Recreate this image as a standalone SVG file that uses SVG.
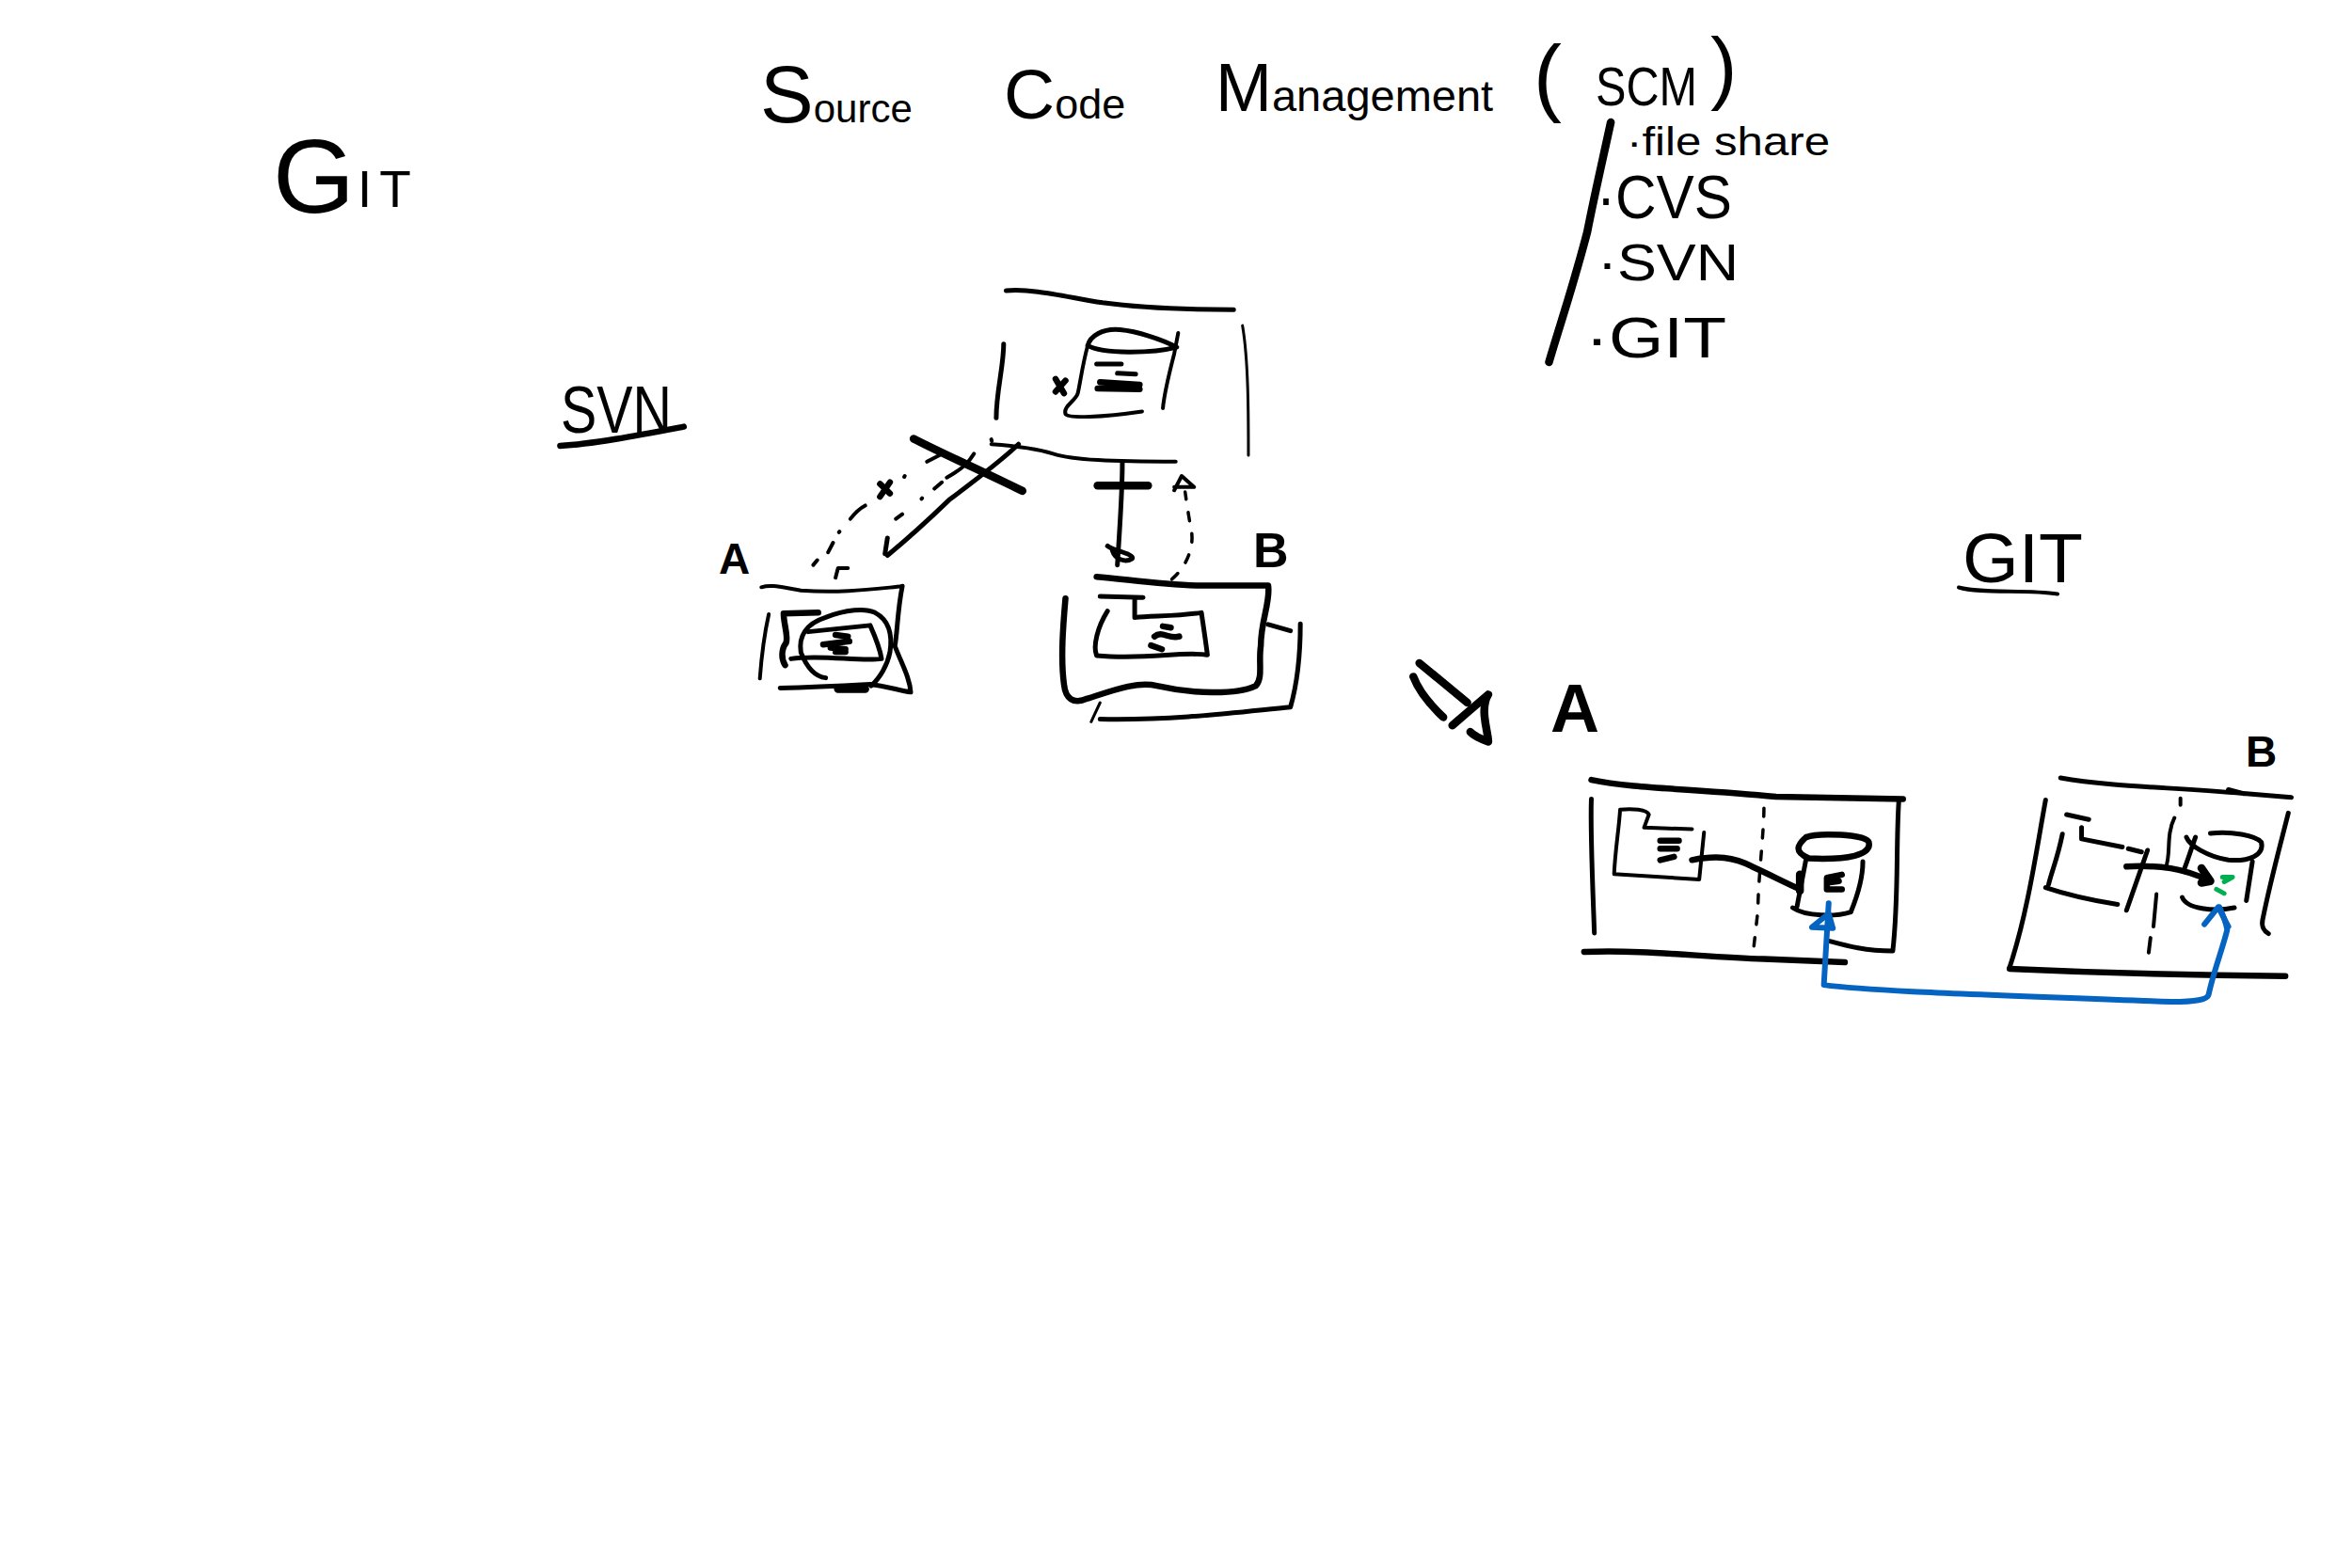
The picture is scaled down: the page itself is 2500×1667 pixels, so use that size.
<svg xmlns="http://www.w3.org/2000/svg" width="2500" height="1667" viewBox="0 0 2500 1667">
<style>
path{fill:none;stroke:#000;stroke-linecap:round;stroke-linejoin:round;stroke-width:5px;vector-effect:non-scaling-stroke}
.t{stroke-width:3px}.m{stroke-width:4px}.b{stroke-width:6.5px}.h{stroke-width:8.5px}
.d{stroke-dasharray:9 14;stroke-width:3.5px}
.blue{stroke:#0563C1;stroke-width:6px}.green{stroke:#00B050;stroke-width:5px}
text{font-family:"Liberation Sans",Arial,sans-serif;fill:#000}
.l{font-weight:700}
</style>
<rect width="2500" height="1667" fill="#fff"/>
<g id="title">
<text y="130" font-size="42" x="808"><tspan font-size="85">S</tspan>ource</text>
<text y="126" font-size="45" x="1067"><tspan font-size="75">C</tspan>ode</text>
<text y="118" font-size="47" x="1292"><tspan font-size="72">M</tspan>anagement</text>
<text y="112" font-size="58"><tspan x="1630" font-size="90">(</tspan><tspan x="1696" y="112" textLength="108" lengthAdjust="spacingAndGlyphs">SCM</tspan><tspan x="1818" y="100" font-size="85">)</tspan></text>
</g>
<g id="scm-list">
<path class="h" transform="translate(780 40) scale(.782 .3333)" d="M1192 270C1180 400 1170 500 1160 620C1140 800 1125 900 1108 1035"/>
<text x="1729" y="165" font-size="42" textLength="216" lengthAdjust="spacingAndGlyphs">·file share</text>
<text x="1697" y="232" font-size="64" textLength="144" lengthAdjust="spacingAndGlyphs">·CVS</text>
<text x="1698" y="298" font-size="55" textLength="150" lengthAdjust="spacingAndGlyphs">·SVN</text>
<text x="1685" y="380" font-size="62" textLength="150" lengthAdjust="spacingAndGlyphs">·GIT</text>
</g>
<g id="heading-git"><text y="226" font-size="55"><tspan x="290" font-size="112">G</tspan><tspan x="380" y="220" letter-spacing="8">IT</tspan></text></g>
<g id="heading-svn">
<text x="596" y="460" font-size="70" textLength="118" lengthAdjust="spacingAndGlyphs">SVN</text>
<path class="b" transform="translate(577 288) scale(.5256 .338)" d="M35 550C100 545 200 515 285 490"/>
</g>
<g id="label-a1"><text class="l" x="764" y="610" font-size="46">A</text></g>
<g id="label-b1"><text class="l" x="1332" y="603" font-size="52">B</text></g>
<g id="heading-git2">
<text x="2086" y="619" font-size="74" textLength="128" lengthAdjust="spacingAndGlyphs">GIT</text>
<path class="m" transform="translate(1480 540) scale(.637 .345)" d="M945 245C980 265 1060 250 1110 265"/>
</g>
<g id="label-a2"><text class="l" x="1648" y="778" font-size="72">A</text></g>
<g id="label-b2"><text class="l" x="2387" y="815" font-size="46">B</text></g>

<g id="svn-server" transform="translate(578 288) scale(.5256 .338)">
<path d="M935 62C990 55 1050 80 1130 100C1200 115 1300 122 1395 122"/>
<path d="M930 230C930 300 915 380 915 462"/>
<path class="t" d="M1413 172C1425 280 1425 450 1425 580"/>
<path class="m" d="M905 545C950 550 1000 560 1030 575C1070 595 1150 600 1278 600"/>
<path d="M1100 235C1105 205 1130 180 1165 185C1200 190 1250 215 1280 240C1230 260 1130 262 1100 235"/>
<path class="m" d="M1283 195L1275 260C1265 320 1255 380 1252 432"/>
<path class="m" d="M1100 235C1090 290 1085 350 1080 385C1075 410 1050 425 1055 450C1060 465 1130 460 1210 442"/>
<path d="M1118 293L1168 293M1160 322L1197 325"/>
<path class="b" d="M1125 350L1205 358M1120 370L1205 372"/>
<path class="b" d="M1035 340L1052 385M1055 345L1035 380"/>
</g>
<g id="svn-client-a" transform="translate(578 288) scale(.5256 .338)">
<path class="m" d="M440 995C460 985 480 995 520 1005C600 1015 670 1000 725 992"/>
<path d="M725 992C715 1070 715 1140 710 1180C725 1240 740 1280 742 1325C720 1320 690 1305 660 1300C600 1305 530 1310 478 1312"/>
<path class="m" d="M455 1080C445 1150 440 1220 437 1282"/>
<path class="b" d="M555 1075L485 1078C485 1110 495 1150 490 1170C480 1190 480 1220 488 1240"/>
<path d="M570 1280C545 1275 530 1240 520 1200C515 1150 530 1110 570 1090C610 1065 650 1060 670 1075C700 1100 705 1150 700 1200C695 1240 680 1280 662 1305"/>
<path d="M535 1135L660 1115C670 1150 680 1190 683 1220C640 1230 560 1205 500 1220"/>
<path class="b" d="M565 1175L618 1165M590 1145L615 1150M580 1185L610 1190M590 1198L610 1198"/>
<path class="h" d="M595 1315L650 1315"/>
</g>
<g id="svn-client-b" transform="translate(578 288) scale(.5256 .338)">
<path class="b" d="M1118 962C1180 970 1250 988 1330 990L1465 990C1470 1040 1450 1100 1450 1180C1445 1230 1455 1280 1440 1305C1400 1335 1310 1330 1240 1305C1200 1290 1150 1320 1100 1345C1070 1365 1055 1345 1052 1300C1045 1220 1050 1120 1055 1030"/>
<path d="M1465 1112L1510 1132"/>
<path d="M1530 1110C1530 1200 1525 1290 1510 1372C1420 1385 1280 1415 1125 1410"/>
<path class="t" d="M1125 1358L1107 1418"/>
<path d="M1125 1024L1212 1027M1195 1030L1195 1090C1240 1085 1290 1085 1330 1075C1335 1130 1340 1180 1342 1208C1290 1195 1220 1225 1118 1210C1110 1180 1120 1120 1140 1070"/>
<path class="b" d="M1252 1118L1268 1122M1235 1150C1250 1130 1265 1160 1285 1150M1228 1178L1250 1190"/>
</g>
<g id="git-repo-a" transform="translate(1480 540) scale(.637 .345)">
<path class="b" d="M332 838C400 865 500 865 640 890L852 897"/>
<path d="M332 897C330 1000 335 1200 337 1310"/>
<path d="M845 905C840 1050 845 1200 835 1365C790 1365 760 1350 730 1335"/>
<path class="b" d="M320 1368C420 1360 520 1385 620 1390L755 1400"/>
<path class="d" d="M620 925C620 1000 610 1150 610 1240L602 1370"/>
<path class="m" d="M380 930C400 925 425 930 428 945L420 985L500 990M520 1000L512 1145L370 1128C372 1050 378 990 380 930"/>
<path class="b" d="M447 1025L478 1025M447 1050L475 1050M447 1085L470 1075"/>
<path class="b" d="M690 1015C710 1000 790 1005 795 1030C800 1070 760 1085 695 1080C670 1060 675 1040 690 1015"/>
<path d="M690 1085L675 1230M785 1090C785 1140 775 1200 765 1245M668 1232C690 1260 740 1260 765 1245"/>
<path class="b" d="M750 1130L725 1140L725 1175L750 1175M725 1155L745 1150"/>
</g>
<g id="git-repo-b" transform="translate(1480 540) scale(.637 .345)">
<path d="M1115 832C1200 860 1300 860 1420 880L1500 892M1395 868L1420 880"/>
<path d="M1090 900C1075 1050 1060 1250 1030 1415"/>
<path class="b" d="M1030 1420C1150 1430 1300 1440 1490 1443"/>
<path d="M1495 940C1480 1050 1465 1150 1452 1270C1450 1290 1455 1305 1462 1312"/>
<path class="m" d="M1315 895L1315 915M1305 955C1290 1010 1300 1070 1290 1110M1275 1190L1270 1290M1265 1325L1262 1370"/>
<path d="M1125 945L1162 960M1150 985L1150 1020L1218 1045M1228 1050L1250 1060M1118 1005C1110 1080 1100 1120 1095 1160M1090 1170C1130 1195 1170 1210 1210 1222M1260 1055L1225 1240"/>
<path d="M1365 1003C1400 995 1440 1010 1450 1030C1455 1070 1430 1090 1395 1085C1360 1075 1330 1040 1325 1015M1340 1015C1335 1040 1330 1070 1322 1110M1435 1090L1425 1210M1318 1200C1325 1235 1370 1245 1405 1232"/>
<path class="green" d="M1385 1138L1402 1138L1388 1152M1375 1175L1388 1188"/>
</g>
<g id="connectors">
<g transform="translate(578 288) scale(.5256 .338)">
<path d="M960 545C930 590 880 650 820 720C780 780 730 850 695 895M695 840L690 890"/>
<path class="h" d="M748 528C800 570 900 640 968 692"/>
<path class="m" d="M905 530L906 535M870 575C860 600 850 620 815 650M805 665L790 685M765 715L764 717M725 765L712 780M800 580L775 600M730 645L729 648M650 738C635 750 625 770 620 780M598 820L597 822M585 855L575 885M553 910L545 925M590 965L595 935L615 935"/>
<path class="b" d="M700 665L680 710M680 670L700 700"/>
<path d="M1170 605C1170 700 1165 800 1160 925M1140 865C1150 880 1195 890 1190 905C1175 920 1155 905 1150 880"/>
<path class="h" d="M1120 675L1222 675"/>
<path class="d" d="M1270 970C1300 930 1315 870 1310 820C1305 780 1300 730 1297 695"/>
<path class="m" d="M1275 690L1290 645L1315 680L1275 680"/>
</g>
<g transform="translate(1480 540) scale(.637 .345)">
<path class="h" d="M45 478L125 600M35 520C45 570 65 610 85 645"/>
<path class="h" d="M100 670L160 575C145 620 160 690 160 720C145 710 135 700 130 690"/>
<path class="b" d="M500 1085C540 1070 570 1075 600 1105C630 1130 650 1150 680 1175"/>
<path class="h" d="M680 1130L680 1180"/>
<path class="b" d="M1225 1105C1280 1100 1320 1110 1365 1150"/>
<path class="h" d="M1350 1110L1365 1150L1350 1155"/>
<path class="blue" d="M728 1218L720 1470C800 1490 1000 1500 1300 1522C1340 1522 1360 1515 1362 1500C1370 1430 1385 1360 1393 1300C1390 1270 1385 1250 1380 1230"/>
<path class="blue" d="M700 1292L728 1250L735 1295ZM1355 1283L1378 1230L1395 1290"/>
</g>
</g>
</svg>
